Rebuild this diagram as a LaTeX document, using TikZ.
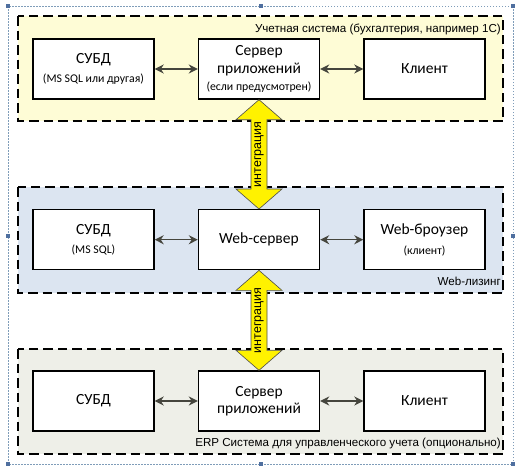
\documentclass[tikz,border=0pt]{standalone}
\usepackage{fontspec}
\setmainfont{Carlito}
\newfontfamily\arialf{Liberation Sans}
\usetikzlibrary{arrows.meta,calc}
\newcommand\subtxt{\fontsize{11.8}{13}\selectfont}
\definecolor{grpY}{HTML}{FEFCD6}
\definecolor{grpB}{HTML}{DCE5F1}
\definecolor{grpG}{HTML}{EEEFE8}
\definecolor{selc}{HTML}{7F9DB9}
\definecolor{handle}{HTML}{4F6F9F}
\definecolor{conn}{HTML}{45453D}
\tikzset{
  x=1pt,y=-1pt,
  grp/.style={draw=black,line width=1.6pt,dash pattern=on 9.5pt off 5pt},
  blk/.style={draw=black,line width=1.4pt,fill=white,minimum width=121pt,minimum height=60pt,inner sep=0pt,align=center,font=\fontsize{15.5}{17.5}\selectfont},
  conx/.style={draw=conn,line width=1.5pt,{Stealth[length=9pt,width=9pt]}-{Stealth[length=9pt,width=9pt]}},
  grplabel/.style={anchor=east,inner sep=0pt,font=\arialf\fontsize{11.6}{13}\selectfont},
  integ/.style={draw=black!70,line width=0.6pt,fill=yellow},
  integtext/.style={rotate=90,inner sep=0pt,font=\arialf\fontsize{12.5}{14}\selectfont},
  hdl/.style={fill=handle,draw=none,minimum size=4pt,inner sep=0pt}
}
\begin{document}
\begin{tikzpicture}
\useasboundingbox (0,0) rectangle (524,472);
% selection frame
\draw[selc,dash pattern=on 1.5pt off 1.5pt,line width=0.6pt] (8,6) rectangle (513,464);
\foreach \p/\n in {{(8,6)}/h1,{(261,6)}/h2,{(513,6)}/h3,{(8,236)}/h4,{(513,236)}/h5,{(8,464)}/h6,{(261,464)}/h7,{(513,464)}/h8}
  \node[hdl] (\n) at \p {};
% groups
\draw[grp,fill=grpY] (18,16) rectangle (503,121);
\draw[grp,fill=grpB] (18,187) rectangle (503,293);
\draw[grp,fill=grpG] (18,349) rectangle (503,454);
\node[grplabel] (l1) at (501,29) {Учетная система (бухгалтерия, например 1С)};
\node[grplabel] (l2) at (501,281) {Web-лизинг};
\node[grplabel] (l3) at (501,443) {ERP Система для управленческого учета (опционально)};
% row 1
\node[blk] (a1) at (93.5,69) {СУБД\\[2pt]{\subtxt (MS SQL или другая)}};
\node[blk] (a2) at (259,69) {Сервер\\приложений\\{\subtxt (если предусмотрен)}};
\node[blk] (a3) at (424.5,69) {Клиент};
% row 2
\node[blk] (b1) at (93.5,239.7) {СУБД\\[2pt]{\subtxt (MS SQL)}};
\node[blk] (b2) at (259,239.7) {Web-сервер};
\node[blk] (b3) at (424.5,239.7) {Web-броузер\\[2pt]{\subtxt (клиент)}};
% row 3
\node[blk] (c1) at (93.5,401) {СУБД};
\node[blk] (c2) at (259,401) {Сервер\\приложений};
\node[blk] (c3) at (424.5,401) {Клиент};
% connectors
\draw[conx] (a1) -- (a2);
\draw[conx] (a2) -- (a3);
\draw[conx] (b1) -- (b2);
\draw[conx] (b2) -- (b3);
\draw[conx] (c1) -- (c2);
\draw[conx] (c2) -- (c3);
% integration arrows
\foreach \t/\b/\n in {a2/b2/i1,b2/c2/i2}{
  \draw[integ] (\t.south) -- ($(\t.south)+(23,20)$) -- ($(\t.south)+(8,20)$)
     -- ($(\b.north)+(8,-20)$) -- ($(\b.north)+(23,-20)$) -- (\b.north)
     -- ($(\b.north)+(-23,-20)$) -- ($(\b.north)+(-8,-20)$)
     -- ($(\t.south)+(-8,20)$) -- ($(\t.south)+(-23,20)$) -- cycle;
  \node[integtext] (\n) at ($(\t.south)!0.5!(\b.north)$) {интеграция};
}
\end{tikzpicture}
\end{document}
